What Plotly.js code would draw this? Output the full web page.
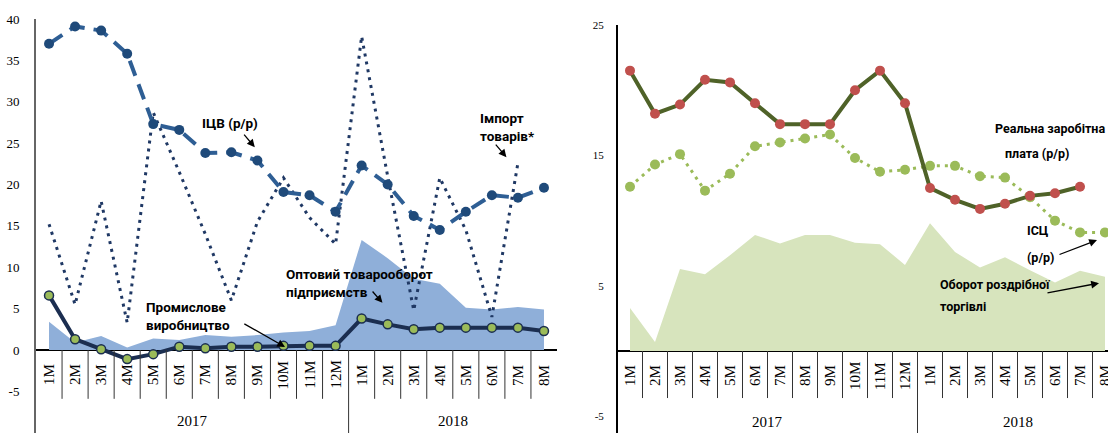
<!DOCTYPE html>
<html>
<head>
<meta charset="utf-8">
<script src="https://cdn.plot.ly/plotly-3.0.1.min.js"></script>
<style>html,body{margin:0;padding:0;background:#fff;}#chart{width:1108px;height:433px;}</style>
</head>
<body>
<div id="chart"></div>
<script>
// ---- data ----
const months = ['1М','2М','3М','4М','5М','6М','7М','8М','9М','10М','11М','12М','1М','2М','3М','4М','5М','6М','7М','8М'];
const years = ['2017','2018'];
const yearCenters = [5.5, 15.5];
const leftTickVals = [-10, -5, 0, 5, 10, 15, 20, 25, 30, 35, 40];
const leftTickText = ['-10', '-5', '0', '5', '10', '15', '20', '25', '30', '35', '40'];
const rightTickVals = [-5, 5, 15, 25];
const rightTickText = ['-5', '5', '15', '25'];

// left panel (%)
const icv = [37.0, 39.1, 38.6, 35.8, 27.3, 26.6, 23.8, 23.9, 22.9, 19.1, 18.7, 16.7, 22.3, 20.0, 16.2, 14.5, 16.7, 18.7, 18.4, 19.6];
const imports = [15.2, 5.5, 18.0, 3.3, 28.7, 21.5, 14.0, 6.0, 15.5, 20.8, 16.0, 12.8, 37.9, 21.0, 4.8, 20.8, 14.5, 4.0, 22.6, null];
const wholesale = [3.4, 0.9, 1.7, 0.3, 1.4, 1.2, 1.8, 1.6, 1.8, 2.1, 2.3, 3.0, 13.3, 11.1, 8.6, 8.0, 5.1, 4.9, 5.2, 4.9];
const industry = [6.6, 1.3, 0.1, -1.1, -0.5, 0.4, 0.2, 0.4, 0.4, 0.5, 0.5, 0.5, 3.8, 3.1, 2.5, 2.7, 2.7, 2.7, 2.7, 2.3];

// right panel (%)
const wage = [21.5, 18.2, 18.9, 20.8, 20.6, 19.0, 17.4, 17.4, 17.4, 20.0, 21.5, 19.0, 12.5, 11.6, 10.9, 11.3, 11.9, 12.1, 12.6, null];
const cpi = [12.6, 14.3, 15.1, 12.3, 13.6, 15.7, 16.0, 16.3, 16.6, 14.8, 13.75, 13.9, 14.2, 14.2, 13.4, 13.3, 11.8, 10.0, 9.1, 9.1];
const retail = [3.3, 0.7, 6.3, 5.9, 7.35, 8.9, 8.25, 8.9, 8.9, 8.3, 8.2, 6.6, 9.8, 7.6, 6.4, 7.2, 6.2, 5.25, 6.15, 5.7];

const idx = months.map((_, i) => i);

const lblFontL = {family: 'Liberation Sans Narrow, Roboto, Arial, sans-serif', size: 13.5, color: '#000'};
const lblFontR = {family: 'Liberation Sans Narrow, Roboto, Arial, sans-serif', size: 12.5, color: '#000'};
const serif = 'Liberation Serif, Times New Roman, serif';

const traces = [
  // left
  {x: idx, y: wholesale, type: 'scatter', mode: 'lines', fill: 'tozeroy', fillcolor: '#8FAFD9',
   line: {width: 0, color: '#8FAFD9'}, xaxis: 'x', yaxis: 'y', hoverinfo: 'skip'},
  {x: idx, y: imports, type: 'scatter', mode: 'lines', line: {color: '#1F3864', width: 3, dash: '3px,5px'},
   xaxis: 'x', yaxis: 'y'},
  {x: idx, y: icv, type: 'scatter', mode: 'lines+markers', line: {color: '#2E5E94', width: 4, dash: '16px,9px'},
   marker: {color: '#1F4A7A', size: 10}, xaxis: 'x', yaxis: 'y'},
  {x: idx, y: industry, type: 'scatter', mode: 'lines+markers', line: {color: '#1B2E50', width: 4},
   marker: {color: '#9BBB59', size: 9, line: {color: '#1B2E50', width: 1.5}}, xaxis: 'x', yaxis: 'y'},
  // right
  {x: idx, y: retail, type: 'scatter', mode: 'lines', fill: 'tozeroy', fillcolor: '#D7E4BD',
   line: {width: 0, color: '#D7E4BD'}, xaxis: 'x2', yaxis: 'y2', hoverinfo: 'skip'},
  {x: idx, y: cpi, type: 'scatter', mode: 'lines+markers', line: {color: '#9BBB59', width: 3, dash: '3px,5px'},
   marker: {color: '#9BBB59', size: 10}, xaxis: 'x2', yaxis: 'y2'},
  {x: idx, y: wage, type: 'scatter', mode: 'lines+markers', line: {color: '#4F6228', width: 4},
   marker: {color: '#C0504D', size: 10}, xaxis: 'x2', yaxis: 'y2'}
];

const leftY = [-10.03, 40];
const rightY = [-6.28, 25];

const shapes = [];
const annotations = [];
function axisDeco(xr, yr, depth, ymin) {
  for (let i = 0; i < months.length - 1; i++) {
    shapes.push({type: 'line', xref: xr, yref: yr, x0: i + 0.5, x1: i + 0.5, y0: 0,
      y1: (i === 11 ? ymin : -depth), line: {color: '#333', width: 1}});
  }
  months.forEach((m, i) => {
    annotations.push({xref: xr, yref: yr, x: i, y: 0, yshift: -25, text: m, showarrow: false,
      textangle: -90, xanchor: 'center', yanchor: 'middle', font: {family: serif, size: 15, color: '#000'}});
  });
  years.forEach((yv, k) => {
    annotations.push({xref: xr, yref: yr, x: yearCenters[k], y: 0, yshift: -71, text: yv, showarrow: false,
      xanchor: 'center', yanchor: 'middle', font: {family: serif, size: 15, color: '#000'}});
  });
}
axisDeco('x', 'y', 5.9, leftY[0]);
axisDeco('x2', 'y2', 3.6, rightY[0]);

function label(xr, yr, x, y, text, xanchor, font) {
  annotations.push({xref: xr, yref: yr, x: x, y: y, text: '<b>' + text + '</b>', showarrow: false,
    xanchor: xanchor || 'left', yanchor: 'middle', align: 'left', font: font});
}
function arrow(xr, yr, tx, ty, hx, hy) {
  annotations.push({xref: xr, yref: yr, axref: xr, ayref: yr, x: hx, y: hy, ax: tx, ay: ty, text: '',
    showarrow: true, arrowhead: 2, arrowsize: 1.2, arrowwidth: 1.3, arrowcolor: '#000'});
}
// left labels
label('x', 'y', 6.95, 27.4, 'ІЦВ (р/р)', 'center', lblFontL);
arrow('x', 'y', 7.44, 26.2, 7.9, 24.5);
label('x', 'y', 16.48, 27.0, 'Імпорт<br>товарів*', 'left', lblFontL);
arrow('x', 'y', 17.1, 25.0, 17.56, 23.3);
label('x', 'y', 9.02, 8.1, 'Оптовий товарооборот<br>підприємств', 'left', lblFontL);
arrow('x', 'y', 12.37, 7.25, 12.8, 5.7);
label('x', 'y', 3.63, 4.1, 'Промислове<br>виробництво', 'left', lblFontL);
arrow('x', 'y', 7.44, 3.26, 9.06, 0.36);
// right labels
label('x2', 'y2', 19.06, 17.09, 'Реальна заробітна', 'right', lblFontR);
label('x2', 'y2', 14.9, 15.17, 'плата (р/р)', 'left', lblFontR);
label('x2', 'y2', 15.8, 9.28, 'ІСЦ', 'left', lblFontR);
label('x2', 'y2', 15.8, 7.2, '(р/р)', 'left', lblFontR);
arrow('x2', 'y2', 17.12, 7.36, 18.68, 8.51);
label('x2', 'y2', 12.32, 5.13, 'Оборот роздрібної', 'left', lblFontR);
label('x2', 'y2', 12.32, 3.45, 'торгівлі', 'left', lblFontR);
arrow('x2', 'y2', 16.64, 4.44, 18.76, 5.21);

const layout = {
  width: 1108, height: 433,
  margin: {l: 0, r: 0, t: 0, b: 0, pad: 0},
  paper_bgcolor: '#fff', plot_bgcolor: 'rgba(0,0,0,0)',
  showlegend: false,
  xaxis: {domain: [36 / 1108, 557 / 1108], range: [-0.5, 19.5], showgrid: false, zeroline: false,
    showticklabels: false, ticks: '', showline: false, anchor: 'y'},
  yaxis: {domain: [0, 1 - 19 / 433], range: leftY, tickmode: 'array', tickvals: leftTickVals, ticktext: leftTickText,
    showgrid: false, zeroline: true, zerolinecolor: '#000', zerolinewidth: 1.5,
    showline: true, linecolor: '#666', linewidth: 2, ticks: '', ticklabelstandoff: 12,
    tickfont: {family: serif, size: 13, color: '#000'}, anchor: 'x'},
  xaxis2: {domain: [617.5 / 1108, 1], range: [-0.5, 19.12], showgrid: false, zeroline: false,
    showticklabels: false, ticks: '', showline: false, anchor: 'y2'},
  yaxis2: {domain: [0, 1 - 25 / 433], range: rightY, tickmode: 'array', tickvals: rightTickVals, ticktext: rightTickText,
    showgrid: false, zeroline: true, zerolinecolor: '#000', zerolinewidth: 1.5,
    showline: true, linecolor: '#000', linewidth: 1.5, ticks: '', ticklabelstandoff: 10,
    tickfont: {family: serif, size: 11, color: '#000'}, anchor: 'x2'},
  shapes: shapes,
  annotations: annotations
};

Plotly.newPlot('chart', traces, layout, {staticPlot: true, displayModeBar: false});
</script>
</body>
</html>
